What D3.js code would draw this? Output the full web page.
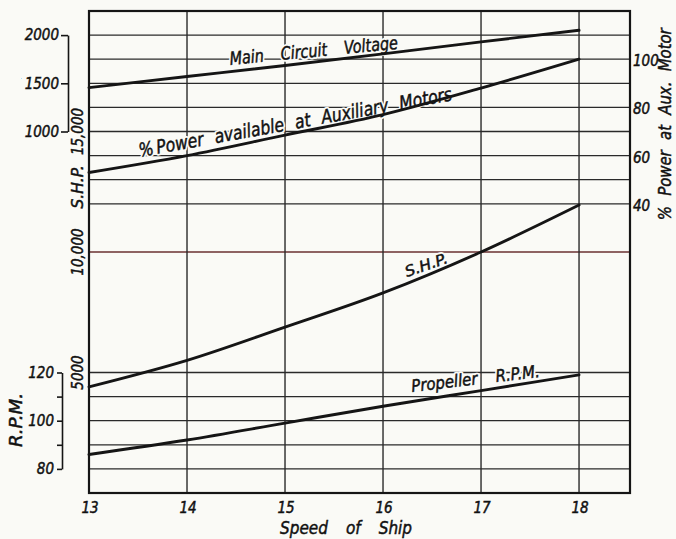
<!DOCTYPE html>
<html lang="en">
<head>
<meta charset="UTF-8">
<title>Speed of Ship</title>
<script src="https://d3js.org/d3.v7.min.js"></script>
<style>
  body { margin: 0; background: #fafaf6; }
  svg { display: block; }
  text { font-family: "DejaVu Sans Condensed", "DejaVu Sans", sans-serif; font-style: italic; fill: #111; stroke: #111; stroke-width: 0.45px; }
  text.num { font-size: 15px; }
  text.halo { fill: #fafaf6; stroke: #fafaf6; stroke-width: 4px; stroke-linejoin: round; }
</style>
</head>
<body>
<svg></svg>
<script>
// values
const speed = [13, 14, 15, 16, 17, 18];
const volts = [1455, 1570, 1685, 1805, 1930, 2050];
const powerPct = [53, 60, 68.5, 77, 88, 100];
const shp = [4400, 5500, 6880, 8300, 10000, 11950];
const rpm = [86, 92, 99, 106, 112.5, 119];

const speedTicks = [13, 14, 15, 16, 17, 18];
const voltTicks = [1000, 1500, 2000];
const rpmTicks = [80, 90, 100, 110, 120];
const shpTicks = [5000, 10000, 15000];
const pctTicks = [40, 60, 80, 100];
const shpGrid = [1000, 2000, 3000, 4000, 5000, 10000, 12000, 13000, 14000, 15000, 16000, 17000, 18000, 19000];

const W = 676, H = 539, bg = '#fafaf6', ink = '#151515';

const svg = d3.select('svg').attr('width', W).attr('height', H);
svg.append('rect').attr('width', W).attr('height', H).attr('fill', bg);

// scales - the SHP scale carries the grid, the others are hung on it
const x = d3.scaleLinear().domain([13, 18.52]).range([89, 630]);
const yShp = d3.scaleLinear().domain([0, 20000]).range([493, 11]);
const yVolt = d3.scaleLinear().domain([1000, 2000]).range([yShp(15000), yShp(19000)]);
const yPct = d3.scaleLinear().domain([40, 100]).range([yShp(12000), yShp(18000)]);
const yRpm = d3.scaleLinear().domain([80, 120]).range([yShp(1000), yShp(5000)]);

const [x0, x1] = x.range();
const [yb, yt] = yShp.range();

// grid
svg.append('g').selectAll('line').data(shpGrid).join('line')
  .attr('x1', x0).attr('x2', x1)
  .attr('y1', d => yShp(d)).attr('y2', d => yShp(d))
  .attr('stroke', d => d === 10000 ? '#6a3030' : '#2a2a2a')
  .attr('stroke-width', 1.3);

svg.append('g').selectAll('line').data(speedTicks.slice(1)).join('line')
  .attr('x1', d => x(d)).attr('x2', d => x(d))
  .attr('y1', yt).attr('y2', yb)
  .attr('stroke', '#2a2a2a').attr('stroke-width', 1.4);

// hand-lettered look: squeeze each text to the width it has in the drawing
function lettered(sel, len, size) {
  return sel.attr('font-size', size)
    .attr('textLength', len)
    .attr('lengthAdjust', 'spacingAndGlyphs');
}

// labels on the curves (halo breaks the grid like the original)
const notes = svg.append('g');
function note(txt, sx, sy, rot, size, len, wordSp) {
  ['halo', 'ink'].forEach(cls => {
    notes.append('text')
      .attr('class', cls)
      .attr('transform', `translate(${x(sx)},${sy}) rotate(${rot})`)
      .attr('word-spacing', wordSp)
      .text(txt)
      .call(lettered, len, size);
  });
}
note('Main Circuit Voltage', 14.44, yVolt(1690), -5.5, 18, 169, 14);
note('%\u2009Power available at Auxiliary Motors', 13.52, yPct(59.4), -10.3, 19, 318, 7);
note('S.H.P.', 16.245, yShp(8960), -19, 15, 44, 0);
note('Propeller R.P.M.', 16.296, yRpm(111.9), -6.7, 17, 129, 14);

// curves
const series = [
  [volts, yVolt],
  [powerPct, yPct],
  [shp, yShp],
  [rpm, yRpm]
];
series.forEach(([vals, ys]) => {
  svg.append('path')
    .datum(vals)
    .attr('fill', 'none')
    .attr('stroke', ink)
    .attr('stroke-width', 2.9)
    .attr('stroke-linecap', 'round')
    .attr('d', d3.line().x((d, i) => x(speed[i])).y(d => ys(d)).curve(d3.curveMonotoneX));
});

// frame
svg.append('rect')
  .attr('x', x0).attr('y', yt).attr('width', x1 - x0).attr('height', yb - yt)
  .attr('fill', 'none').attr('stroke', ink).attr('stroke-width', 2.2);

// volts bracket
const voltAxis = svg.append('g')
  .attr('transform', 'translate(68,0)')
  .call(d3.axisLeft(yVolt).tickValues(voltTicks).tickSize(7).tickSizeOuter(0).tickPadding(2)
    .tickFormat(d3.format('d')));
// rpm bracket
const rpmAxis = svg.append('g')
  .attr('transform', 'translate(62,0)')
  .call(d3.axisLeft(yRpm).tickValues(rpmTicks).tickSize(5).tickSizeOuter(0).tickPadding(3)
    .tickFormat(d => d % 20 === 0 ? d : ''));
[voltAxis, rpmAxis].forEach(g => {
  g.selectAll('path, line').attr('stroke', ink).attr('stroke-width', 1.6);
  g.selectAll('text').attr('class', 'num').attr('fill', ink);
});

// S.H.P. numbers, rotated beside the frame
svg.append('g').selectAll('text').data(shpTicks).join('text')
  .attr('class', 'num')
  .attr('transform', d => `translate(83,${yShp(d)}) rotate(-90)`)
  .attr('text-anchor', 'middle')
  .text(d => d >= 10000 ? d3.format(',')(d) : d);

// right % scale
svg.append('g').selectAll('text').data(pctTicks).join('text')
  .attr('class', 'num')
  .attr('x', 633).attr('y', d => yPct(d) + 7)
  .text(d => d);

// speed ticks
svg.append('g').selectAll('text').data(speedTicks).join('text')
  .attr('class', 'num')
  .attr('x', d => x(d) + 1).attr('y', 513)
  .attr('text-anchor', 'middle')
  .text(d => d);

// axis titles
svg.append('text')
  .attr('x', 280).attr('y', 534)
  .attr('word-spacing', 14)
  .text('Speed of Ship')
  .call(lettered, 132, 18);

svg.append('defs').append('clipPath').attr('id', 'cut')
  .append('rect').attr('x', 12).attr('y', 0).attr('width', 60).attr('height', H);
svg.append('text')
  .attr('clip-path', 'url(#cut)')
  .attr('transform', `translate(21,${yVolt(1420)}) rotate(-90)`)
  .attr('text-anchor', 'middle')
  .text('Volts')
  .call(lettered, 30, 17);

svg.append('text')
  .attr('transform', `translate(83,${yShp(12700)}) rotate(-90)`)
  .attr('text-anchor', 'middle')
  .text('S.H.P.')
  .call(lettered, 43, 15);

svg.append('text')
  .attr('transform', `translate(22,${yRpm(100.3)}) rotate(-90)`)
  .attr('text-anchor', 'middle')
  .text('R.P.M.')
  .call(lettered, 54, 17);

svg.append('text')
  .attr('transform', `translate(671,${yPct(73)}) rotate(-90)`)
  .attr('text-anchor', 'middle').attr('word-spacing', 6)
  .text('% Power at Aux. Motor')
  .call(lettered, 192, 18);
</script>
</body>
</html>
